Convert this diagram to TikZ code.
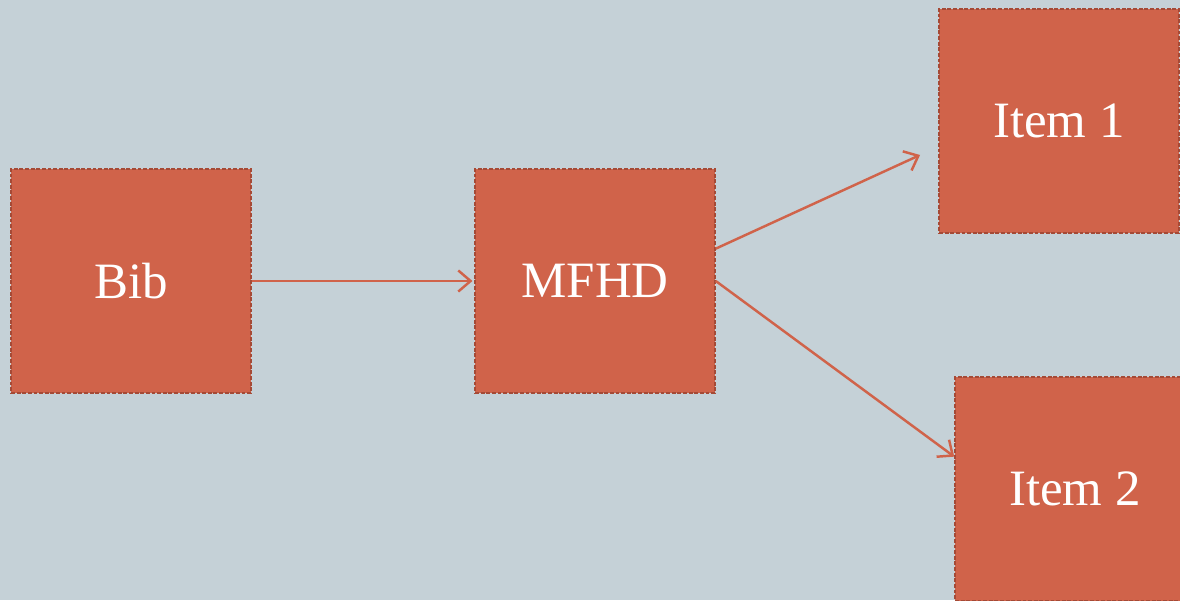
\documentclass[tikz,border=0pt]{standalone}
\usepackage{fontspec}
\setmainfont{Liberation Serif}
\usetikzlibrary{arrows.meta}
\definecolor{slide}{HTML}{C5D1D7}
\definecolor{rust}{HTML}{D0634A}
\definecolor{rustdark}{HTML}{A54A36}
\begin{document}
\begin{tikzpicture}[x=0.02cm, y=-0.02cm, -{Straight Barb[length=7pt,width=12pt]}, draw=rust, line width=1.4pt, box/.style = {draw=rustdark, fill=rust, text=white, dash pattern=on 2.2pt off 1pt, line width=0.9pt, minimum width=4.8cm, minimum height=4.48cm, font=\fontsize{29}{34}\selectfont}] 
    \fill[slide] (0,0) rectangle (1180,600);
    \useasboundingbox (0,0) rectangle (1180,600);
    \clip (0,0) rectangle (1180,600);
    \node[box] (bib) at (131,281) {Bib};
    \node[box] (mfhd) at (595,281) {MFHD};
    \node[box] (item1) at (1059,121) {Item 1};
    \node[box] (item2) at (1075,489) {Item 2};

    \draw[shorten >=1pt] (bib) -- (mfhd);
    \draw[shorten >=0.4cm] (mfhd.15) -- (item1.192);
    \draw (mfhd.east) -- (item2.165);
\end{tikzpicture}
\end{document}
